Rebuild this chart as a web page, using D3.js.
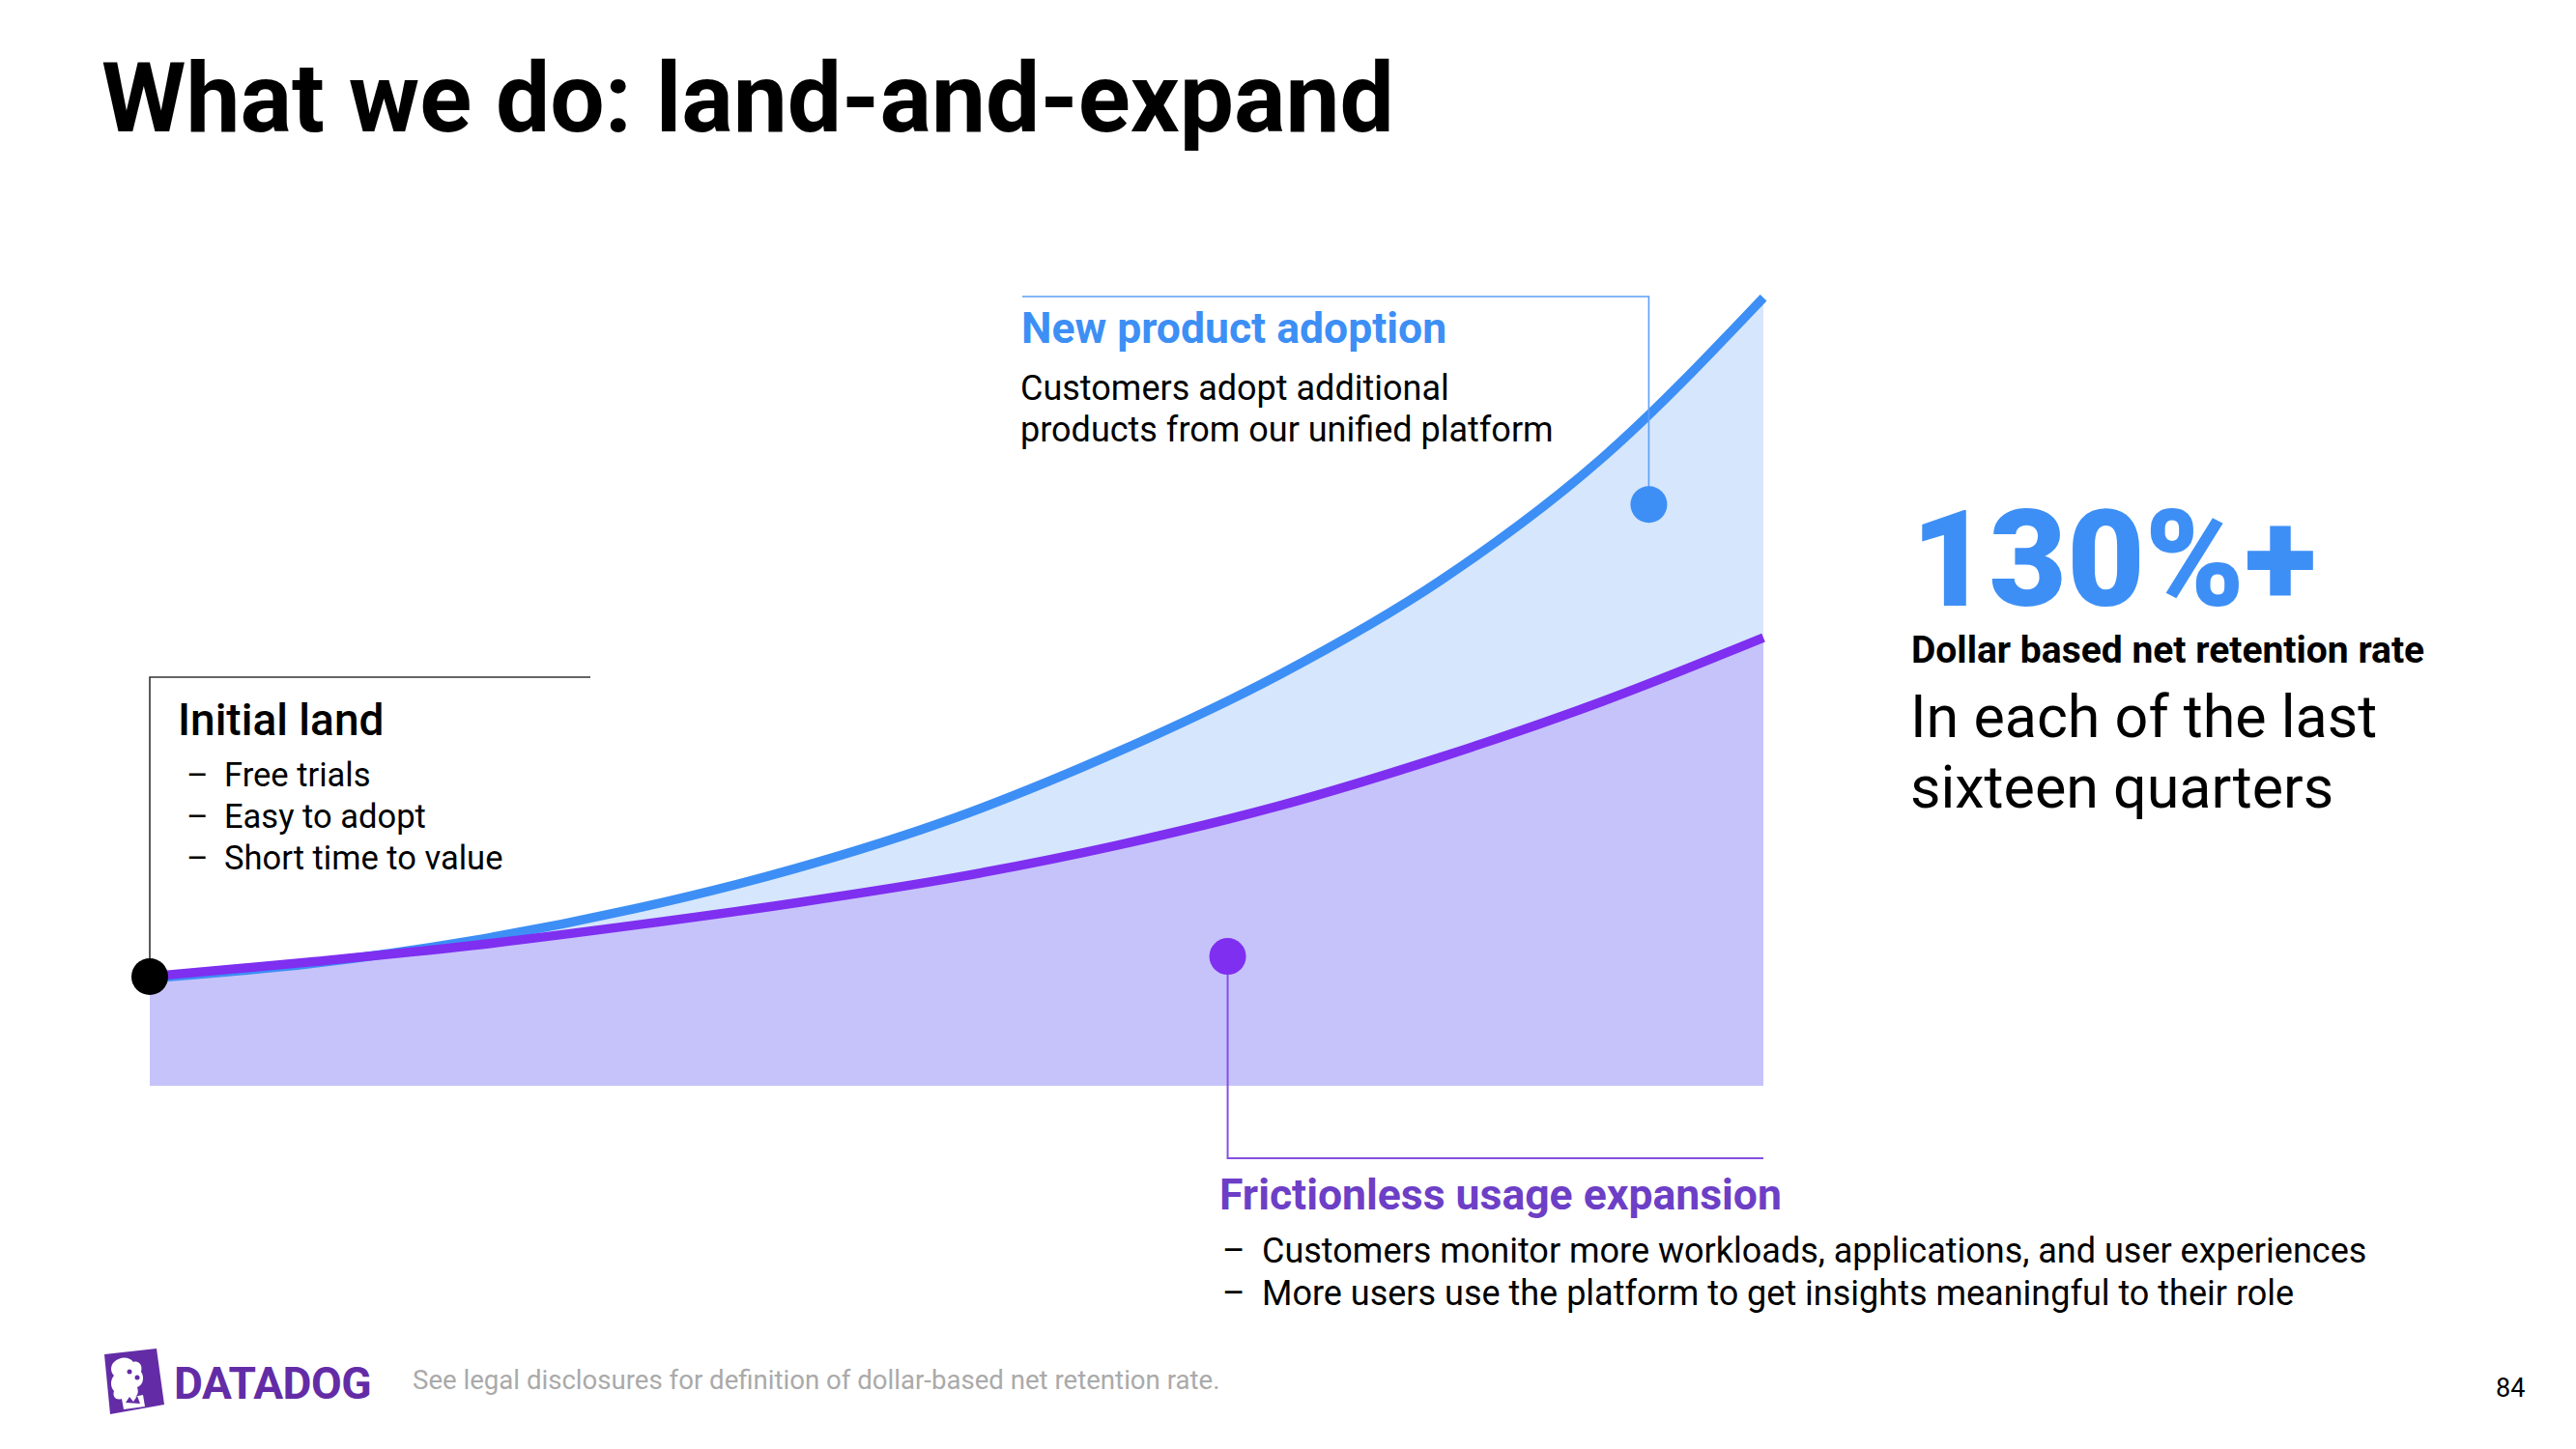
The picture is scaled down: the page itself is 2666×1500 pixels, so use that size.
<!DOCTYPE html>
<html>
<head>
<meta charset="utf-8">
<script src="https://cdn.jsdelivr.net/npm/d3@7"></script>
<style>
  html, body { margin: 0; padding: 0; background: #ffffff; }
  svg { display: block; font-family: Roboto, "Noto Sans", sans-serif; }
</style>
</head>
<body>
<svg id="chart" width="2666" height="1500"></svg>
<script>
// ---------- data ----------
const quarters = [0, 1, 2, 3, 4, 5, 6, 7, 8, 9, 10];
// illustrative expansion index (start of the relationship = 100)
const newProductIndex = [99.7, 102.4, 106.6, 112.4, 119.8, 129.2, 141.2, 155.3, 172.6, 195.0, 224.4];
const usageIndex      = [100.0, 102.7, 105.7, 109.4, 113.5, 118.2, 124.1, 131.3, 140.2, 150.4, 162.1];
const baselineValue = 80;

const titleText = "What we do: land-and-expand";
const landTitle = "Initial land";
const landBullets = ["Free trials", "Easy to adopt", "Short time to value"];
const productTitle = "New product adoption";
const productLines = ["Customers adopt additional", "products from our unified platform"];
const usageTitle = "Frictionless usage expansion";
const usageBullets = [
  "Customers monitor more workloads, applications, and user experiences",
  "More users use the platform to get insights meaningful to their role"
];
const kpiValue = "130%+";
const kpiLabel = "Dollar based net retention rate";
const kpiLines = ["In each of the last", "sixteen quarters"];
const footnote = "See legal disclosures for definition of dollar-based net retention rate.";
const pageNumber = "84";

// annotation anchors in data space [quarter, index]
const landAnchor = [0, 100];
const productAnchor = [9.29, 186.5];
const usageAnchor = [6.68, 103.7];

// ---------- colours ----------
const BLUE = "#3d8ff5", BLUE_FILL = "#d6e6fc", BLUE_RULE = "#5d9ff5";
const PURPLE = "#7e2ff0", PURPLE_FILL = "#c6c3fa", PURPLE_TEXT = "#6d3fc6", PURPLE_RULE = "#8650e2";

const svg = d3.select("#chart");

// ---------- scales ----------
const x = d3.scaleLinear().domain([0, 10]).range([155, 1825]);
const y = d3.scaleLinear().domain([80, 230]).range([1124, 276.5]);

const curve = d3.curveMonotoneX;
const data = quarters.map((q, i) => ({ q, b: newProductIndex[i], p: usageIndex[i] }));

// areas
svg.append("path")
  .datum(data)
  .attr("fill", BLUE_FILL)
  .attr("d", d3.area().curve(curve).x(d => x(d.q)).y0(y(baselineValue)).y1(d => y(d.b)));
svg.append("path")
  .datum(data)
  .attr("fill", PURPLE_FILL)
  .attr("d", d3.area().curve(curve).x(d => x(d.q)).y0(y(baselineValue)).y1(d => y(d.p)));

// lines
svg.append("path")
  .datum(data)
  .attr("fill", "none").attr("stroke", BLUE).attr("stroke-width", 9.5)
  .attr("d", d3.line().curve(curve).x(d => x(d.q)).y(d => y(d.b)));
svg.append("path")
  .datum(data)
  .attr("fill", "none").attr("stroke", PURPLE).attr("stroke-width", 9.5)
  .attr("d", d3.line().curve(curve).x(d => x(d.q)).y(d => y(d.p)));

// ---------- leaders ----------
// Initial land (black)
svg.append("path")
  .attr("fill", "none").attr("stroke", "#333").attr("stroke-width", 1.6)
  .attr("d", `M${x(landAnchor[0])},${y(landAnchor[1])} V701 H611`);
svg.append("circle").attr("cx", x(landAnchor[0])).attr("cy", y(landAnchor[1])).attr("r", 19).attr("fill", "#000");

// New product adoption (blue)
svg.append("path")
  .attr("fill", "none").attr("stroke", BLUE_RULE).attr("stroke-width", 1.6)
  .attr("d", `M1058,307 H${x(productAnchor[0])} V${y(productAnchor[1])}`);
svg.append("circle").attr("cx", x(productAnchor[0])).attr("cy", y(productAnchor[1])).attr("r", 19).attr("fill", BLUE);

// Usage expansion (purple)
svg.append("path")
  .attr("fill", "none").attr("stroke", PURPLE_RULE).attr("stroke-width", 2)
  .attr("d", `M${x(usageAnchor[0])},${y(usageAnchor[1])} V1199 H${x(10)}`);
svg.append("circle").attr("cx", x(usageAnchor[0])).attr("cy", y(usageAnchor[1])).attr("r", 19).attr("fill", PURPLE);

// ---------- text ----------
svg.append("text").attr("x", 105).attr("y", 136)
  .attr("font-size", 100).attr("font-weight", 700).attr("fill", "#000").text(titleText);

// Initial land
svg.append("text").attr("x", 184).attr("y", 761)
  .attr("font-size", 46).attr("font-weight", 500).attr("fill", "#000").text(landTitle);
landBullets.forEach((t, i) => {
  svg.append("text").attr("x", 193).attr("y", 814 + i * 43).attr("font-size", 34.5).attr("fill", "#000").text("–");
  svg.append("text").attr("x", 232).attr("y", 814 + i * 43).attr("font-size", 34.5).attr("fill", "#000").text(t);
});

// New product adoption
svg.append("text").attr("x", 1057).attr("y", 355)
  .attr("font-size", 44.5).attr("font-weight", 700).attr("fill", BLUE).text(productTitle);
productLines.forEach((t, i) => {
  svg.append("text").attr("x", 1056).attr("y", 414 + i * 43).attr("font-size", 36).attr("fill", "#000").text(t);
});

// Usage expansion
svg.append("text").attr("x", 1262).attr("y", 1252)
  .attr("font-size", 44.5).attr("font-weight", 700).attr("fill", PURPLE_TEXT).text(usageTitle);
usageBullets.forEach((t, i) => {
  svg.append("text").attr("x", 1265).attr("y", 1307 + i * 44).attr("font-size", 36).attr("fill", "#000").text("–");
  svg.append("text").attr("x", 1306).attr("y", 1307 + i * 44).attr("font-size", 36).attr("fill", "#000").text(t);
});

// KPI
svg.append("text").attr("x", 1978).attr("y", 627)
  .attr("font-size", 139).attr("font-weight", 900).attr("fill", BLUE).text(kpiValue);
svg.append("text").attr("x", 1978).attr("y", 686)
  .attr("font-size", 39).attr("font-weight", 700).attr("fill", "#000").text(kpiLabel);
kpiLines.forEach((t, i) => {
  svg.append("text").attr("x", 1977).attr("y", 763 + i * 73).attr("font-size", 61).attr("fill", "#000").text(t);
});

// ---------- footer ----------
const logo = svg.append("g").attr("transform", "translate(104,1396)");
logo.append("path").attr("fill", "#632ca6")
  .attr("d", "M4,6 L58,0 L66,58 L10,68 Z");
// simplified dog silhouette
logo.append("path").attr("fill", "#ffffff")
  .attr("d", "M14,14 C20,8 30,8 34,14 C40,12 44,18 42,24 C46,30 44,38 38,40 C40,46 38,50 34,50 L44,48 L46,60 L24,63 L22,52 C16,54 12,50 14,44 C10,40 10,32 14,28 C10,24 10,18 14,14 Z");
logo.append("path").attr("fill", "#632ca6")
  .attr("d", "M26,56 L30,50 L34,55 L38,49 L41,57 Z");
logo.append("circle").attr("cx", 30).attr("cy", 24).attr("r", 2.5).attr("fill", "#632ca6");
logo.append("circle").attr("cx", 38).attr("cy", 30).attr("r", 2.5).attr("fill", "#632ca6");

svg.append("text").attr("x", 180).attr("y", 1448)
  .attr("font-size", 46).attr("font-weight", 700).attr("fill", "#632ca6").attr("letter-spacing", -0.5).text("DATADOG");
svg.append("text").attr("x", 427).attr("y", 1438)
  .attr("font-size", 27.6).attr("fill", "#aaaaaa").text(footnote);
svg.append("text").attr("x", 2583).attr("y", 1446)
  .attr("font-size", 27).attr("fill", "#000").text(pageNumber);
</script>
</body>
</html>
